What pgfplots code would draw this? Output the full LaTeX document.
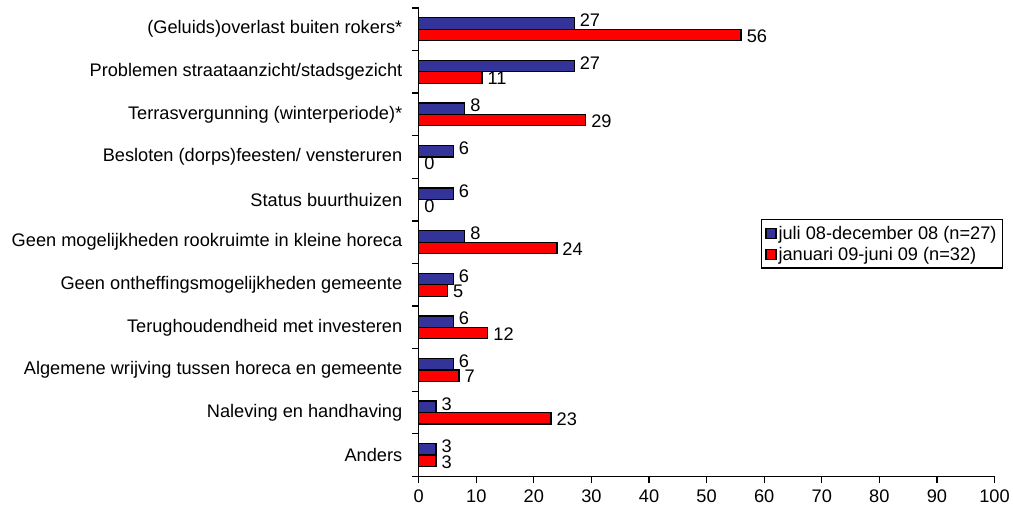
\documentclass[border=0pt]{standalone}
\usepackage{fontspec}
\setmainfont{Liberation Sans}
\usepackage{pgfplots}
\pgfplotsset{compat=1.18}
\definecolor{cblue}{HTML}{333399}
\definecolor{cred}{HTML}{FF0000}
\newcommand{\lf}{\fontsize{18.3}{20}\selectfont}
\begin{document}
\begin{tikzpicture}
\begin{axis}[
  scale only axis, width=579pt, height=471pt,
  xbar, bar width=11.5pt,
  xmin=0, xmax=100, xtick={0,10,...,100},
  ymin=-0.5, ymax=10.5,
  ytick={-0.5,0.5,...,10.5}, yticklabels={},
  extra y ticks={0,...,10},
  extra y tick labels={Anders,Naleving en handhaving,Algemene wrijving tussen horeca en gemeente,Terughoudendheid met investeren,Geen ontheffingsmogelijkheden gemeente,Geen mogelijkheden rookruimte in kleine horeca,Status buurthuizen,Besloten (dorps)feesten/ vensteruren,Terrasvergunning (winterperiode)*,Problemen straataanzicht/stadsgezicht,(Geluids)overlast buiten rokers*},
  extra y tick style={major tick length=0pt, tick style={draw=none}},
  axis x line*=bottom, axis y line*=left,
  tick align=outside, major tick length=7pt,
  axis line style={line width=1.3pt, -},
  tick style={line width=1.3pt, black},
  ticklabel style={font=\lf},
  yticklabel style={xshift=-13pt},
  xticklabel style={yshift=-3pt},
  /pgf/number format/assume math mode=true,
  nodes near coords, nodes near coords align=horizontal,
  every node near coord/.append style={font=\lf, black, inner sep=2pt, xshift=3pt},
  legend style={at={(1.015,0.549)}, anchor=north east, draw=black, line width=1.3pt,
    font=\lf, row sep=3pt, inner sep=4pt, cells={anchor=west}},
  legend image code/.code={\draw[#1, line width=1.2pt] (0pt,-5pt) rectangle (10pt,5pt);},
  clip=false,
]
\addplot[fill=cblue, draw=black, line width=1.3pt, bar shift=5.75pt,
  every node near coord/.append style={yshift=3pt}] coordinates {
  (3,0) (3,1) (6,2) (6,3) (6,4) (8,5) (6,6) (6,7) (8,8) (27,9) (27,10)};
\addplot[fill=cred, draw=black, line width=1.3pt, bar shift=-5.75pt,
  every node near coord/.append style={yshift=-1pt}] coordinates {
  (3,0) (23,1) (7,2) (12,3) (5,4) (24,5) (0,6) (0,7) (29,8) (11,9) (56,10)};
\legend{juli 08-december 08 (n=27), januari 09-juni 09 (n=32)}
\end{axis}
\path (current axis.south west) ++(-421pt,-34pt) rectangle ++(1013pt,513pt);
\end{tikzpicture}
\end{document}
